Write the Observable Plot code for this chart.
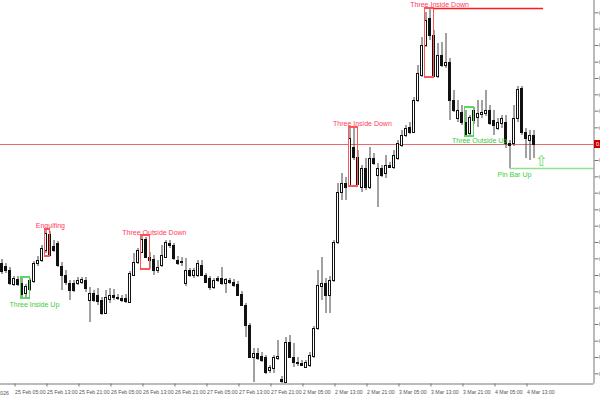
<!DOCTYPE html>
<html><head><meta charset="utf-8">
<script src="https://cdn.jsdelivr.net/npm/d3@7"></script>
<script src="https://cdn.jsdelivr.net/npm/@observablehq/plot@0.6"></script>
<style>
html,body{margin:0;padding:0;background:#fff;overflow:hidden;}
#chart svg{display:block;overflow:hidden;}
#chart svg rect{shape-rendering:crispEdges;}
</style></head><body><div id="chart"></div>
<script>
// Hourly OHLC (bar index 0 = 25 Feb 02:00 ... 133 = 4 Mar 15:00)
const open = [0.70411,0.70402,0.70390,0.70348,0.70363,0.70351,0.70321,0.70333,0.70357,0.70411,
0.70420,0.70450,0.70498,0.70462,0.70471,0.70402,0.70375,0.70351,0.70351,0.70351,
0.70354,0.70360,0.70300,0.70321,0.70315,0.70300,0.70261,0.70303,0.70315,0.70309,
0.70306,0.70306,0.70294,0.70375,0.70414,0.70444,0.70483,0.70429,0.70423,0.70390,
0.70405,0.70429,0.70465,0.70465,0.70420,0.70414,0.70351,0.70390,0.70375,0.70375,
0.70405,0.70375,0.70366,0.70339,0.70360,0.70366,0.70351,0.70354,0.70354,0.70348,
0.70318,0.70285,0.70225,0.70129,0.70141,0.70132,0.70129,0.70090,0.70096,0.70126,
0.70063,0.70054,0.70174,0.70129,0.70114,0.70111,0.70099,0.70105,0.70132,0.70216,
0.70342,0.70351,0.70315,0.70360,0.70474,0.70624,0.70651,0.70645,0.70759,0.70729,
0.70639,0.70696,0.70639,0.70726,0.70675,0.70696,0.70681,0.70705,0.70699,0.70726,
0.70765,0.70795,0.70819,0.70804,0.70900,0.70975,0.71065,0.71146,0.71095,0.70972,
0.71035,0.71005,0.71014,0.70900,0.70846,0.70864,0.70834,0.70801,0.70840,0.70849,
0.70858,0.70861,0.70870,0.70840,0.70816,0.70831,0.70834,0.70765,0.70771,0.70846,
0.70936,0.70804,0.70780,0.70795];
const high = [0.70423,0.70411,0.70399,0.70372,0.70372,0.70369,0.70348,0.70366,0.70417,0.70432,
0.70465,0.70513,0.70507,0.70480,0.70477,0.70414,0.70390,0.70360,0.70360,0.70369,
0.70369,0.70369,0.70339,0.70330,0.70336,0.70309,0.70330,0.70336,0.70333,0.70318,
0.70315,0.70318,0.70387,0.70441,0.70456,0.70495,0.70489,0.70444,0.70435,0.70420,
0.70465,0.70480,0.70480,0.70471,0.70432,0.70429,0.70426,0.70396,0.70396,0.70420,
0.70420,0.70381,0.70372,0.70366,0.70372,0.70399,0.70366,0.70366,0.70363,0.70357,
0.70327,0.70291,0.70231,0.70156,0.70156,0.70144,0.70135,0.70105,0.70135,0.70180,
0.70072,0.70189,0.70195,0.70171,0.70129,0.70120,0.70120,0.70144,0.70222,0.70390,
0.70429,0.70366,0.70372,0.70480,0.70651,0.70681,0.70669,0.70816,0.70819,0.70750,
0.70705,0.70726,0.70759,0.70741,0.70711,0.70705,0.70735,0.70714,0.70750,0.70780,
0.70810,0.70825,0.70834,0.70909,0.71005,0.71089,0.71164,0.71176,0.71110,0.71071,
0.71074,0.71101,0.71026,0.70930,0.70900,0.70885,0.70870,0.70855,0.70879,0.70900,
0.70900,0.70930,0.70885,0.70870,0.70846,0.70855,0.70855,0.70780,0.70885,0.70942,
0.70942,0.70816,0.70810,0.70810];
const low = [0.70378,0.70381,0.70345,0.70342,0.70342,0.70306,0.70309,0.70327,0.70351,0.70402,
0.70414,0.70441,0.70432,0.70444,0.70399,0.70330,0.70345,0.70300,0.70324,0.70345,
0.70348,0.70324,0.70234,0.70294,0.70285,0.70255,0.70258,0.70291,0.70300,0.70300,
0.70294,0.70291,0.70291,0.70372,0.70408,0.70441,0.70426,0.70393,0.70375,0.70381,
0.70399,0.70426,0.70456,0.70420,0.70405,0.70402,0.70342,0.70369,0.70366,0.70369,
0.70372,0.70351,0.70330,0.70333,0.70354,0.70345,0.70321,0.70348,0.70339,0.70312,
0.70282,0.70189,0.70126,0.70054,0.70120,0.70114,0.70078,0.70081,0.70081,0.70120,
0.70051,0.70051,0.70126,0.70099,0.70102,0.70102,0.70096,0.70099,0.70126,0.70210,
0.70300,0.70261,0.70261,0.70354,0.70468,0.70600,0.70600,0.70642,0.70720,0.70645,
0.70624,0.70630,0.70633,0.70705,0.70579,0.70669,0.70666,0.70696,0.70693,0.70720,
0.70759,0.70789,0.70798,0.70801,0.70894,0.70969,0.71059,0.71080,0.70969,0.70966,
0.70999,0.70996,0.70840,0.70864,0.70834,0.70825,0.70792,0.70795,0.70828,0.70819,
0.70846,0.70852,0.70825,0.70795,0.70810,0.70816,0.70756,0.70696,0.70762,0.70834,
0.70795,0.70726,0.70720,0.70726];
const close = [0.70387,0.70390,0.70351,0.70366,0.70348,0.70318,0.70342,0.70360,0.70411,0.70420,
0.70456,0.70501,0.70435,0.70450,0.70405,0.70375,0.70354,0.70330,0.70330,0.70360,
0.70363,0.70336,0.70321,0.70300,0.70297,0.70261,0.70309,0.70315,0.70309,0.70306,
0.70300,0.70297,0.70381,0.70414,0.70450,0.70483,0.70429,0.70420,0.70390,0.70399,
0.70435,0.70474,0.70471,0.70426,0.70411,0.70417,0.70390,0.70375,0.70390,0.70411,
0.70375,0.70354,0.70339,0.70360,0.70366,0.70351,0.70363,0.70360,0.70345,0.70315,
0.70285,0.70225,0.70129,0.70141,0.70126,0.70120,0.70084,0.70099,0.70129,0.70132,
0.70057,0.70174,0.70129,0.70114,0.70111,0.70105,0.70114,0.70135,0.70216,0.70345,
0.70351,0.70315,0.70360,0.70474,0.70624,0.70651,0.70639,0.70786,0.70729,0.70648,
0.70696,0.70639,0.70726,0.70711,0.70696,0.70675,0.70705,0.70699,0.70735,0.70771,
0.70795,0.70816,0.70804,0.70900,0.70981,0.71065,0.71140,0.71095,0.70972,0.71035,
0.71005,0.71014,0.70900,0.70870,0.70870,0.70834,0.70795,0.70849,0.70870,0.70861,
0.70864,0.70870,0.70831,0.70825,0.70834,0.70846,0.70771,0.70771,0.70846,0.70933,
0.70804,0.70786,0.70795,0.70768];

const firstLabel = "25 Feb 2026";
const xTickBars = [3,11,19,27,35,43,51,59,67,75,83,91,99,107,115,123,131];
const xTickLabels = ["25 Feb 05:00","25 Feb 13:00","25 Feb 21:00","26 Feb 05:00","26 Feb 13:00","26 Feb 21:00","27 Feb 05:00","27 Feb 13:00","27 Feb 21:00","2 Mar 05:00","2 Mar 13:00","2 Mar 21:00","3 Mar 05:00","3 Mar 13:00","3 Mar 21:00","4 Mar 05:00","4 Mar 13:00"];
const yTicks = [0.71163,0.71114,0.71065,0.71015,0.70966,0.70917,0.70868,0.70818,0.70769,0.70720,0.70671,0.70622,0.70572,0.70523,0.70474,0.70425,0.70375,0.70326,0.70277,0.70228,0.70178,0.70129,0.70080];

// Candlestick patterns found
const patNames = ["Three Inside Up","Engulfing","Three Outside Down","Three Inside Down","Three Inside Down","Three Outside Up"];
const patStart = [5,11,35,87,106,116];
const patEnd = [7,12,37,89,108,118];
const patBull = [true,false,false,false,false,true];
const patLabelBar = [8.1,12.1,38.1,90.1,109.4,119.4];
const patLabelPrice = [0.70288,0.70525,0.70504,0.70831,0.71188,0.70780];
const pinBar = 127, pinLabelBar = 128.1, pinLabelPrice = 0.70678;
const arrowBar = 134.9, arrowPrice = 0.70717;
const topLineEnd = 135.4;

const xMin = -0.375, xMax = 148;
const yMin = 0.700495, yMax = 0.712;

const RED_T = "#ff3b5c", RED_B = "#ff5555", GREEN_T = "#3ccc3c", GREEN_B = "#5fd65f";

const candles = open.map((o, i) => ({i, o, h: high[i], l: low[i], c: close[i], up: close[i] >= o}));
const pats = patNames.map((n, k) => {
  const seg = candles.slice(patStart[k], patEnd[k] + 1);
  return {name: n, x1: patStart[k], x2: patEnd[k], top: d3.max(seg, d => d.h), bot: d3.min(seg, d => d.l),
          bull: patBull[k], lx: patLabelBar[k], ly: patLabelPrice[k]};
});
const last = close[close.length - 1];
const topPat = pats[4];
const pinLow = low[pinBar];

const chart = Plot.plot({
  width: 600, height: 400,
  marginTop: 0, marginLeft: 0, marginRight: 6.5, marginBottom: 16.5,
  style: {fontFamily: "Liberation Sans, Arial, sans-serif", background: "#fff", overflow: "hidden"},
  x: {domain: [xMin, xMax]},
  y: {domain: [yMin, yMax]},
  marks: [
    Plot.ruleY([last], {stroke: "#e86a6a", strokeWidth: 1}),
    Plot.ruleX(candles, {x: "i", y1: "l", y2: "h", stroke: "#444", strokeWidth: 1}),
    Plot.rect(candles, {x1: d => d.i - 0.375, x2: d => d.i + 0.375, y1: d => Math.min(d.o, d.c), y2: d => Math.max(d.o, d.c),
      fill: "#111", insetTop: -0.5, insetBottom: -0.5}),
    Plot.rect(candles.filter(d => d.up && Math.abs(d.c - d.o) > 0.00006), {x1: d => d.i - 0.375, x2: d => d.i + 0.375,
      y1: "o", y2: "c", fill: "#fff", inset: 1, insetTop: 0.5, insetBottom: 0.5}),
    Plot.rect(pats, {x1: d => d.x1 - 0.2, x2: "x2", y1: "bot", y2: "top", fill: "none", stroke: d => d.bull ? GREEN_B : RED_B, strokeWidth: 1.5}),
    Plot.text(pats, {x: "lx", y: "ly", text: "name", fill: d => d.bull ? GREEN_T : RED_T, fontSize: 7}),
    Plot.ruleY([topPat], {x1: d => d.x2, x2: () => topLineEnd, y: "top", stroke: "#ff1a1a", strokeWidth: 1.5}),
    Plot.ruleY([pinLow], {x1: () => pinBar, x2: () => xMax, y: d => d, stroke: "#8ee08e", strokeWidth: 1.5}),
    Plot.text(["Pin Bar Up"], {x: () => pinLabelBar, y: () => pinLabelPrice, text: d => d, fill: GREEN_T, fontSize: 7}),
    Plot.text(["\u21E7"], {x: () => arrowBar, y: () => arrowPrice, text: d => d, fill: "#6fd96f", fontSize: 15, fontFamily: "DejaVu Sans"}),
    Plot.ruleX([xMax], {stroke: "#777"}),
    Plot.ruleY([yMin], {stroke: "#777"}),
    Plot.axisY({anchor: "right", ticks: yTicks, tickSize: 4, tickPadding: 1, tickFormat: d3.format(".5f"), fontSize: 5.5, color: "#555", stroke: "#777"}),
    Plot.axisX({anchor: "bottom", ticks: xTickBars, tickSize: 3, tickPadding: 3, tickFormat: d => xTickLabels[xTickBars.indexOf(d)], textAnchor: "start", dx: 1, fontSize: 5.2, color: "#555", stroke: "#777"}),
    Plot.text([firstLabel], {x: () => 0, y: () => yMin, text: d => d, textAnchor: "end", dx: 7, dy: 9, fontSize: 5.2, fill: "#555"}),
    Plot.rect([last], {x1: () => xMax, x2: () => xMax + 3, y1: d => d - 0.00012, y2: d => d + 0.00012, fill: "#cc0000", dx: 0.5}),
    Plot.text([last], {x: () => xMax, y: d => d, text: d => d3.format(".5f")(d), textAnchor: "start", dx: 2, fill: "#fff", fontSize: 5.5})
  ]
});
document.getElementById("chart").appendChild(chart);
</script></body></html>
